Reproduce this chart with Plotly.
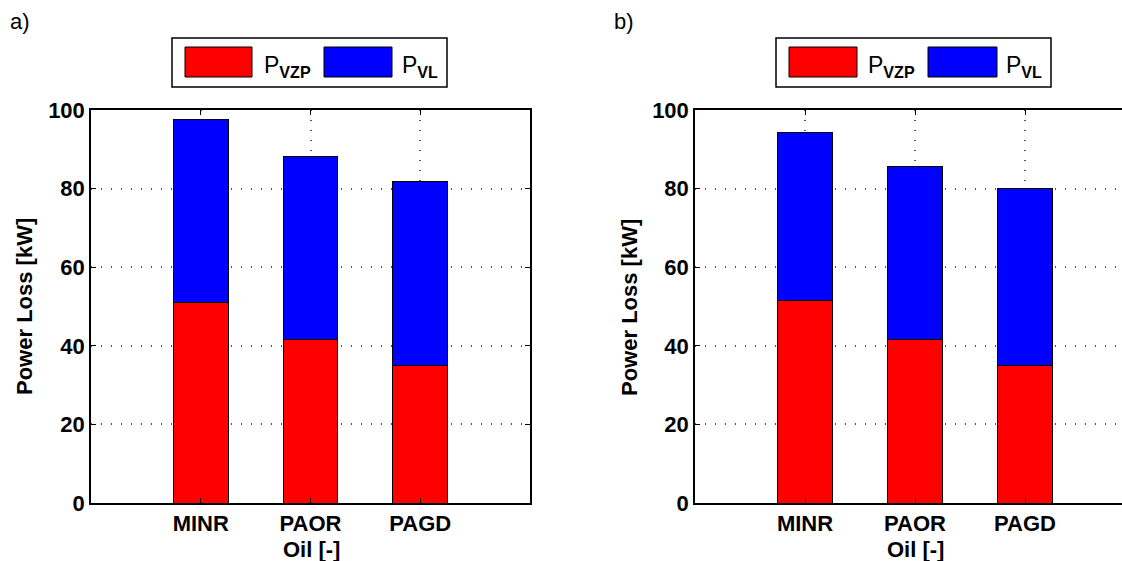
import plotly.graph_objects as go

categories = ["MINR", "PAOR", "PAGD"]
a_vzp = [50.9, 41.5, 34.9]
a_vl_total = [97.5, 88.2, 81.9]
b_vzp = [51.6, 41.7, 35.1]
b_vl_total = [94.3, 85.6, 80.0]
a_vl = [t - r for t, r in zip(a_vl_total, a_vzp)]
b_vl = [t - r for t, r in zip(b_vl_total, b_vzp)]
xpos = [1, 2, 3]
yticks = [0, 20, 40, 60, 80, 100]

RED = "#ff0000"
BLUE = "#0000ff"
FONT = "Liberation Sans, Arial, sans-serif"
W, H = 1122, 561
FS = 22

fig = go.Figure()
for xa, ya, vzp, vl in [("x", "y", a_vzp, a_vl), ("x2", "y2", b_vzp, b_vl)]:
    fig.add_trace(go.Bar(x=xpos, y=vzp, width=0.5, marker=dict(color=RED, line=dict(color="black", width=1)),
                         xaxis=xa, yaxis=ya, showlegend=False, name="P_VZP"))
    fig.add_trace(go.Bar(x=xpos, y=vl, width=0.5, marker=dict(color=BLUE, line=dict(color="black", width=1)),
                         xaxis=xa, yaxis=ya, showlegend=False, name="P_VL"))

tickfont = dict(family=FONT, size=FS, color="black", weight="bold")
grid = dict(showgrid=True, gridcolor="#555", griddash="1px,9px", gridwidth=1.5)
common_x = dict(grid, tickvals=xpos, ticktext=categories, automargin=False,
                showline=True, linecolor="black", linewidth=1.5, ticks="inside", ticklen=5,
                tickcolor="black", tickfont=tickfont, zeroline=False)
common_y = dict(grid, tickvals=yticks, range=[0, 100], automargin=False,
                showline=True, linecolor="black", linewidth=1.5, ticks="inside", ticklen=5,
                tickcolor="black", tickfont=tickfont, zeroline=False)

ydom = [(561 - 503) / H, (561 - 110) / H]
fig.update_layout(
    width=W, height=H, margin=dict(l=0, r=0, t=0, b=0, autoexpand=False),
    paper_bgcolor="white", plot_bgcolor="white", barmode="stack",
    xaxis=dict(common_x, domain=[91 / W, 530 / W], range=[0, 4], mirror="ticks", anchor="y"),
    yaxis=dict(common_y, domain=ydom, mirror="ticks", anchor="x"),
    xaxis2=dict(common_x, domain=[695 / W, 1.0], range=[0, (1122 - 695) / 110], mirror="ticks", anchor="y2"),
    yaxis2=dict(common_y, domain=ydom, mirror=False, anchor="x2"),
)

def px(x):
    return x / W

def py(y):
    return 1 - y / H

shapes = []
annotations = []
for (x0, x1, rx0, rx1, rt, bx0, bx1, bt, lab, labx, cx) in [
    (172, 447, 185, 252, 262, 324, 392, 400, "a)", 8, 311),
    (776, 1051, 789, 857, 866, 928, 997, 1004, "b)", 612, 915),
]:
    shapes.append(dict(type="rect", xref="paper", yref="paper", x0=px(x0), x1=px(x1), y0=py(87), y1=py(38),
                       line=dict(color="black", width=1.5), fillcolor="white"))
    shapes.append(dict(type="rect", xref="paper", yref="paper", x0=px(rx0), x1=px(rx1), y0=py(77), y1=py(47),
                       line=dict(color="black", width=1), fillcolor=RED))
    shapes.append(dict(type="rect", xref="paper", yref="paper", x0=px(bx0), x1=px(bx1), y0=py(77), y1=py(47),
                       line=dict(color="black", width=1), fillcolor=BLUE))
    annotations.append(dict(text="P<sub><b>VZP</b></sub>", x=px(rt), y=py(66), xref="paper", yref="paper",
                            xanchor="left", yanchor="middle", showarrow=False,
                            font=dict(family=FONT, size=23, color="black")))
    annotations.append(dict(text="P<sub><b>VL</b></sub>", x=px(bt), y=py(66), xref="paper", yref="paper",
                            xanchor="left", yanchor="middle", showarrow=False,
                            font=dict(family=FONT, size=23, color="black")))
    annotations.append(dict(text=lab, x=px(labx), y=py(22), xref="paper", yref="paper",
                            xanchor="left", yanchor="middle", showarrow=False,
                            font=dict(family=FONT, size=22, color="black")))
    annotations.append(dict(text="<b>Oil [-]</b>", x=px(cx), y=py(549), xref="paper", yref="paper",
                            xanchor="center", yanchor="middle", showarrow=False,
                            font=dict(family=FONT, size=FS, color="black")))
for tx in [24, 629]:
    annotations.append(dict(text="<b>Power Loss [kW]</b>", x=px(tx), y=py(307), xref="paper", yref="paper",
                            xanchor="center", yanchor="middle", showarrow=False, textangle=-90,
                            font=dict(family=FONT, size=FS, color="black")))

fig.update_layout(shapes=shapes, annotations=annotations)
fig.write_html("out.html", config={"displayModeBar": False},
               post_script="document.body.style.margin='0';document.body.style.overflow='hidden';")
